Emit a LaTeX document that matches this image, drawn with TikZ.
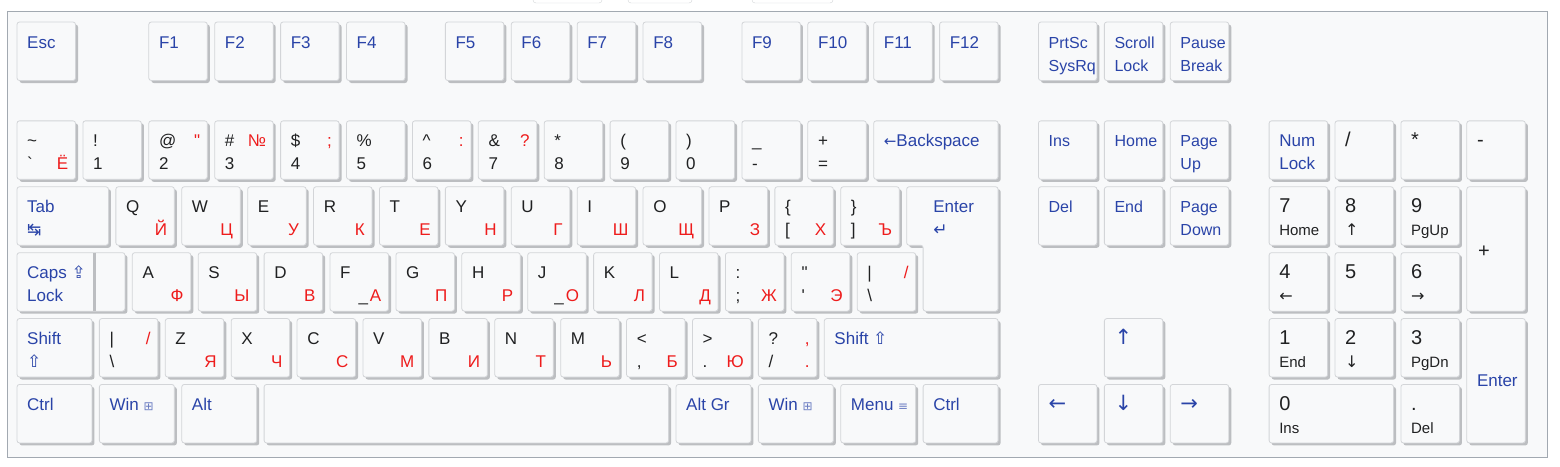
\documentclass[tikz,border=0pt]{standalone}
\usepackage{fontspec}
\setmainfont{Liberation Sans}
\newfontfamily\kbsans{Liberation Sans}
\newfontfamily\symf{DejaVu Sans}
\usetikzlibrary{shadows}

\definecolor{framebg}{HTML}{F8F9FA}
\definecolor{frameline}{HTML}{A2A9B1}
\definecolor{keyface}{HTML}{F8F9FA}
\definecolor{keyline}{HTML}{D3D5D8}
\definecolor{keyshade}{HTML}{BCBEC1}
\definecolor{keyblue}{HTML}{2A44A8}
\definecolor{keyred}{HTML}{EE1C1C}
\definecolor{keyblack}{HTML}{202122}

\newcommand\kbfont{\kbsans\fontsize{17}{20}\selectfont}
\newcommand\kbnavfont{\kbsans\fontsize{16}{19}\selectfont}
\newcommand\kbpadfont{\kbsans\fontsize{20}{24}\selectfont}
\newcommand\kbpadsub{\kbsans\fontsize{15}{18}\selectfont}
\newcommand\kbicon{\symf\fontsize{12}{12}\selectfont\color{keyblue!70}}
\newcommand\kbarrow{\symf\fontsize{21}{21}\selectfont}
\newcommand\kbsubarrow{\symf\fontsize{16}{16}\selectfont}

\begin{document}
\begin{tikzpicture}[x=65.9pt, y=-65.9pt,
    key/.style={draw=keyline, line width=0.8pt, fill=keyface, rounded corners=2.5pt,
      inner sep=0pt, outer sep=0pt, anchor=north west,
      minimum width=58.5pt, minimum height=58.5pt,
      general shadow={fill=keyshade, shadow xshift=2.5pt, shadow yshift=-2.5pt}},
    keybody/.style={draw=keyline, line width=0.8pt, fill=keyface, rounded corners=2.5pt},
    kw/.style={minimum width=#1*65.9pt-7.4pt},
    kh/.style={minimum height=#1*65.9pt-7.4pt},
    ltop/.style={anchor=base west, xshift=10pt, yshift=-26pt, inner sep=0pt, text=keyblack, font=\kbfont},
    lbot/.style={ltop, yshift=-23pt},
    rtop/.style={anchor=base east, xshift=-7pt, yshift=-26pt, inner sep=0pt, text=keyred, font=\kbfont},
    rbot/.style={rtop, yshift=-23pt},
    fn/.style={text=keyblue},
    nav/.style={text=keyblue, font=\kbnavfont},
    pad/.style={font=\kbpadfont},
    padsub/.style={font=\kbpadsub}]
  \useasboundingbox (-17pt,22pt) rectangle (1543pt,-444pt);
  % bits of the page above
  \draw[keyline, fill=white, rounded corners=3pt] (516pt,32pt) rectangle (585pt,19pt);
  \draw[keyline, fill=white, rounded corners=3pt] (611pt,32pt) rectangle (675pt,19pt);
  \draw[keyline, fill=white, rounded corners=3pt] (735pt,32pt) rectangle (816pt,19pt);
  \draw[frameline, fill=framebg, line width=1pt] (-9.5pt,11pt) rectangle (1530pt,-435.5pt);

  % function row
  \node[key, label={[ltop,fn]north west:{Esc}}] (k-esc) at (0,0) {};
  \node[key, label={[ltop,fn]north west:{F1}}] (k-f1) at (2,0) {};
  \node[key, label={[ltop,fn]north west:{F2}}] (k-f2) at (3,0) {};
  \node[key, label={[ltop,fn]north west:{F3}}] (k-f3) at (4,0) {};
  \node[key, label={[ltop,fn]north west:{F4}}] (k-f4) at (5,0) {};
  \node[key, label={[ltop,fn]north west:{F5}}] (k-f5) at (6.5,0) {};
  \node[key, label={[ltop,fn]north west:{F6}}] (k-f6) at (7.5,0) {};
  \node[key, label={[ltop,fn]north west:{F7}}] (k-f7) at (8.5,0) {};
  \node[key, label={[ltop,fn]north west:{F8}}] (k-f8) at (9.5,0) {};
  \node[key, label={[ltop,fn]north west:{F9}}] (k-f9) at (11,0) {};
  \node[key, label={[ltop,fn]north west:{F10}}] (k-f10) at (12,0) {};
  \node[key, label={[ltop,fn]north west:{F11}}] (k-f11) at (13,0) {};
  \node[key, label={[ltop,fn]north west:{F12}}] (k-f12) at (14,0) {};
  \node[key, label={[ltop,nav]north west:{PrtSc}}, label={[lbot,nav]north west:{SysRq}}] (k-prtsc) at (15.5,0) {};
  \node[key, label={[ltop,nav]north west:{Scroll}}, label={[lbot,nav]north west:{Lock}}] (k-scroll) at (16.5,0) {};
  \node[key, label={[ltop,nav]north west:{Pause}}, label={[lbot,nav]north west:{Break}}] (k-pause) at (17.5,0) {};

  % number row
  \node[key, label={[ltop]north west:{\textasciitilde}}, label={[lbot]north west:{`}}, label={[rbot]north east:{Ё}}] (k-tilde) at (0,1.5) {};
  \node[key, label={[ltop]north west:{!}}, label={[lbot]north west:{1}}] (k-1) at (1,1.5) {};
  \node[key, label={[ltop]north west:{@}}, label={[lbot]north west:{2}}, label={[rtop]north east:{"}}] (k-2) at (2,1.5) {};
  \node[key, label={[ltop]north west:{\#}}, label={[lbot]north west:{3}}, label={[rtop]north east:{№}}] (k-3) at (3,1.5) {};
  \node[key, label={[ltop]north west:{\$}}, label={[lbot]north west:{4}}, label={[rtop]north east:{;}}] (k-4) at (4,1.5) {};
  \node[key, label={[ltop]north west:{\%}}, label={[lbot]north west:{5}}] (k-5) at (5,1.5) {};
  \node[key, label={[ltop]north west:{\textasciicircum}}, label={[lbot]north west:{6}}, label={[rtop]north east:{:}}] (k-6) at (6,1.5) {};
  \node[key, label={[ltop]north west:{\&}}, label={[lbot]north west:{7}}, label={[rtop]north east:{?}}] (k-7) at (7,1.5) {};
  \node[key, label={[ltop]north west:{*}}, label={[lbot]north west:{8}}] (k-8) at (8,1.5) {};
  \node[key, label={[ltop]north west:{(}}, label={[lbot]north west:{9}}] (k-9) at (9,1.5) {};
  \node[key, label={[ltop]north west:{)}}, label={[lbot]north west:{0}}] (k-0) at (10,1.5) {};
  \node[key, label={[ltop]north west:{\_}}, label={[lbot]north west:{-}}] (k-minus) at (11,1.5) {};
  \node[key, label={[ltop]north west:{+}}, label={[lbot]north west:{=}}] (k-equal) at (12,1.5) {};
  \node[key, kw=2, label={[ltop,fn]north west:{{\symf\fontsize{15}{15}\selectfont ←}Backspace}}] (k-bksp) at (13,1.5) {};

  % tab row
  \node[key, kw=1.5, label={[ltop,fn]north west:{Tab}}, label={[lbot,fn]north west:{{\symf ↹}}}] (k-tab) at (0,2.5) {};
  \node[key, label={[ltop]north west:{Q}}, label={[rbot]north east:{Й}}] (k-q) at (1.5,2.5) {};
  \node[key, label={[ltop]north west:{W}}, label={[rbot]north east:{Ц}}] (k-w) at (2.5,2.5) {};
  \node[key, label={[ltop]north west:{E}}, label={[rbot]north east:{У}}] (k-e) at (3.5,2.5) {};
  \node[key, label={[ltop]north west:{R}}, label={[rbot]north east:{К}}] (k-r) at (4.5,2.5) {};
  \node[key, label={[ltop]north west:{T}}, label={[rbot]north east:{Е}}] (k-t) at (5.5,2.5) {};
  \node[key, label={[ltop]north west:{Y}}, label={[rbot]north east:{Н}}] (k-y) at (6.5,2.5) {};
  \node[key, label={[ltop]north west:{U}}, label={[rbot]north east:{Г}}] (k-u) at (7.5,2.5) {};
  \node[key, label={[ltop]north west:{I}}, label={[rbot]north east:{Ш}}] (k-i) at (8.5,2.5) {};
  \node[key, label={[ltop]north west:{O}}, label={[rbot]north east:{Щ}}] (k-o) at (9.5,2.5) {};
  \node[key, label={[ltop]north west:{P}}, label={[rbot]north east:{З}}] (k-p) at (10.5,2.5) {};
  \node[key, label={[ltop]north west:{\{}}, label={[lbot]north west:{[}}, label={[rbot]north east:{Х}}] (k-lbrack) at (11.5,2.5) {};
  \node[key, label={[ltop]north west:{\}}}, label={[lbot]north west:{]}}, label={[rbot]north east:{Ъ}}] (k-rbrack) at (12.5,2.5) {};
  \fill[keyshade, rounded corners=2.5pt, xshift=2.5pt, yshift=-2.5pt] (13.5,2.5) -- ([xshift=-7.4pt]15,2.5) -- ([shift={(-7.4pt,7.4pt)}]15,4.5) -- ([yshift=7.4pt]13.75,4.5) -- ([yshift=7.4pt]13.75,3.5) -- ([yshift=7.4pt]13.5,3.5) -- cycle;
  \draw[keybody] (13.5,2.5) -- ([xshift=-7.4pt]15,2.5) -- ([shift={(-7.4pt,7.4pt)}]15,4.5) -- ([yshift=7.4pt]13.75,4.5) -- ([yshift=7.4pt]13.75,3.5) -- ([yshift=7.4pt]13.5,3.5) -- cycle;
  \node[ltop,fn] (k-enter) at (13.75,2.5) {Enter};
  \node[lbot,fn] (k-enter-sym) at (13.75,2.5) {{\symf ↵}};

  % caps row
  \node[key, kw=1.75, label={[ltop,fn]north west:{Caps {\symf ⇪}}}, label={[lbot,fn]north west:{Lock}}] (k-caps) at (0,3.5) {};
  \draw[keyshade, line width=2.5pt] ([xshift=-5pt]1.25,3.5) -- ([shift={(-5pt,7.4pt)}]1.25,4.5);
  \node[key, label={[ltop]north west:{A}}, label={[rbot]north east:{Ф}}] (k-a) at (1.75,3.5) {};
  \node[key, label={[ltop]north west:{S}}, label={[rbot]north east:{Ы}}] (k-s) at (2.75,3.5) {};
  \node[key, label={[ltop]north west:{D}}, label={[rbot]north east:{В}}] (k-d) at (3.75,3.5) {};
  \node[key, label={[ltop]north west:{F}}, label={[rbot]north east:{\textcolor{keyblack}{\_}\kern2pt А}}] (k-f) at (4.75,3.5) {};
  \node[key, label={[ltop]north west:{G}}, label={[rbot]north east:{П}}] (k-g) at (5.75,3.5) {};
  \node[key, label={[ltop]north west:{H}}, label={[rbot]north east:{Р}}] (k-h) at (6.75,3.5) {};
  \node[key, label={[ltop]north west:{J}}, label={[rbot]north east:{\textcolor{keyblack}{\_}\kern2pt О}}] (k-j) at (7.75,3.5) {};
  \node[key, label={[ltop]north west:{K}}, label={[rbot]north east:{Л}}] (k-k) at (8.75,3.5) {};
  \node[key, label={[ltop]north west:{L}}, label={[rbot]north east:{Д}}] (k-l) at (9.75,3.5) {};
  \node[key, label={[ltop]north west:{:}}, label={[lbot]north west:{;}}, label={[rbot]north east:{Ж}}] (k-semi) at (10.75,3.5) {};
  \node[key, label={[ltop]north west:{"}}, label={[lbot]north west:{'}}, label={[rbot]north east:{Э}}] (k-quote) at (11.75,3.5) {};
  \node[key, label={[ltop]north west:{|}}, label={[lbot]north west:{\textbackslash}}, label={[rtop]north east:{/}}] (k-bslash) at (12.75,3.5) {};

  % shift row
  \node[key, kw=1.25, label={[ltop,fn]north west:{Shift}}, label={[lbot,fn]north west:{{\symf ⇧}}}] (k-lshift) at (0,4.5) {};
  \node[key, label={[ltop]north west:{|}}, label={[lbot]north west:{\textbackslash}}, label={[rtop]north east:{/}}] (k-iso) at (1.25,4.5) {};
  \node[key, label={[ltop]north west:{Z}}, label={[rbot]north east:{Я}}] (k-z) at (2.25,4.5) {};
  \node[key, label={[ltop]north west:{X}}, label={[rbot]north east:{Ч}}] (k-x) at (3.25,4.5) {};
  \node[key, label={[ltop]north west:{C}}, label={[rbot]north east:{С}}] (k-c) at (4.25,4.5) {};
  \node[key, label={[ltop]north west:{V}}, label={[rbot]north east:{М}}] (k-v) at (5.25,4.5) {};
  \node[key, label={[ltop]north west:{B}}, label={[rbot]north east:{И}}] (k-b) at (6.25,4.5) {};
  \node[key, label={[ltop]north west:{N}}, label={[rbot]north east:{Т}}] (k-n) at (7.25,4.5) {};
  \node[key, label={[ltop]north west:{M}}, label={[rbot]north east:{Ь}}] (k-m) at (8.25,4.5) {};
  \node[key, label={[ltop]north west:{<}}, label={[lbot]north west:{,}}, label={[rbot]north east:{Б}}] (k-comma) at (9.25,4.5) {};
  \node[key, label={[ltop]north west:{>}}, label={[lbot]north west:{.}}, label={[rbot]north east:{Ю}}] (k-period) at (10.25,4.5) {};
  \node[key, label={[ltop]north west:{?}}, label={[lbot]north west:{/}}, label={[rtop]north east:{,}}, label={[rbot]north east:{.}}] (k-slash) at (11.25,4.5) {};
  \node[key, kw=2.75, label={[ltop,fn]north west:{Shift {\symf ⇧}}}] (k-rshift) at (12.25,4.5) {};

  % bottom row
  \node[key, kw=1.25, label={[ltop,fn]north west:{Ctrl}}] (k-lctrl) at (0,5.5) {};
  \node[key, kw=1.25, label={[ltop,fn]north west:{Win {\kbicon ⊞}}}] (k-lwin) at (1.25,5.5) {};
  \node[key, kw=1.25, label={[ltop,fn]north west:{Alt}}] (k-lalt) at (2.5,5.5) {};
  \node[key, kw=6.25] (k-space) at (3.75,5.5) {};
  \node[key, kw=1.25, label={[ltop,fn]north west:{Alt Gr}}] (k-altgr) at (10,5.5) {};
  \node[key, kw=1.25, label={[ltop,fn]north west:{Win {\kbicon ⊞}}}] (k-rwin) at (11.25,5.5) {};
  \node[key, kw=1.25, label={[ltop,fn]north west:{Menu {\kbicon ≡}}}] (k-menu) at (12.5,5.5) {};
  \node[key, kw=1.25, label={[ltop,fn]north west:{Ctrl}}] (k-rctrl) at (13.75,5.5) {};

  % navigation block
  \node[key, label={[ltop,nav]north west:{Ins}}] (k-ins) at (15.5,1.5) {};
  \node[key, label={[ltop,nav]north west:{Home}}] (k-home) at (16.5,1.5) {};
  \node[key, label={[ltop,nav]north west:{Page}}, label={[lbot,nav]north west:{Up}}] (k-pgup) at (17.5,1.5) {};
  \node[key, label={[ltop,nav]north west:{Del}}] (k-del) at (15.5,2.5) {};
  \node[key, label={[ltop,nav]north west:{End}}] (k-end) at (16.5,2.5) {};
  \node[key, label={[ltop,nav]north west:{Page}}, label={[lbot,nav]north west:{Down}}] (k-pgdn) at (17.5,2.5) {};
  \node[key, label={[ltop,fn,font=\kbarrow]north west:{↑}}] (k-up) at (16.5,4.5) {};
  \node[key, label={[ltop,fn,font=\kbarrow]north west:{←}}] (k-left) at (15.5,5.5) {};
  \node[key, label={[ltop,fn,font=\kbarrow]north west:{↓}}] (k-down) at (16.5,5.5) {};
  \node[key, label={[ltop,fn,font=\kbarrow]north west:{→}}] (k-right) at (17.5,5.5) {};

  % numeric keypad
  \node[key, label={[ltop,fn]north west:{Num}}, label={[lbot,fn]north west:{Lock}}] (p-num) at (19,1.5) {};
  \node[key, label={[ltop,pad]north west:{/}}] (p-div) at (20,1.5) {};
  \node[key, label={[ltop,pad]north west:{*}}] (p-mul) at (21,1.5) {};
  \node[key, label={[ltop,pad]north west:{-}}] (p-sub) at (22,1.5) {};
  \node[key, label={[ltop,pad]north west:{7}}, label={[lbot,padsub]north west:{Home}}] (p-7) at (19,2.5) {};
  \node[key, label={[ltop,pad]north west:{8}}, label={[lbot,font=\kbsubarrow]north west:{↑}}] (p-8) at (20,2.5) {};
  \node[key, label={[ltop,pad]north west:{9}}, label={[lbot,padsub]north west:{PgUp}}] (p-9) at (21,2.5) {};
  \node[key, kh=2, label={[anchor=west, xshift=11pt, yshift=-3pt, inner sep=0pt, text=keyblack, font=\kbpadfont]west:{+}}] (p-add) at (22,2.5) {};
  \node[key, label={[ltop,pad]north west:{4}}, label={[lbot,font=\kbsubarrow]north west:{←}}] (p-4) at (19,3.5) {};
  \node[key, label={[ltop,pad]north west:{5}}] (p-5) at (20,3.5) {};
  \node[key, label={[ltop,pad]north west:{6}}, label={[lbot,font=\kbsubarrow]north west:{→}}] (p-6) at (21,3.5) {};
  \node[key, label={[ltop,pad]north west:{1}}, label={[lbot,padsub]north west:{End}}] (p-1) at (19,4.5) {};
  \node[key, label={[ltop,pad]north west:{2}}, label={[lbot,font=\kbsubarrow]north west:{↓}}] (p-2) at (20,4.5) {};
  \node[key, label={[ltop,pad]north west:{3}}, label={[lbot,padsub]north west:{PgDn}}] (p-3) at (21,4.5) {};
  \node[key, kh=2, label={[anchor=west, xshift=10pt, inner sep=0pt, text=keyblue, font=\kbfont]west:{Enter}}] (p-enter) at (22,4.5) {};
  \node[key, kw=2, label={[ltop,pad]north west:{0}}, label={[lbot,padsub]north west:{Ins}}] (p-0) at (19,5.5) {};
  \node[key, label={[ltop,pad]north west:{.}}, label={[lbot,padsub]north west:{Del}}] (p-dot) at (21,5.5) {};
\end{tikzpicture}
\end{document}
